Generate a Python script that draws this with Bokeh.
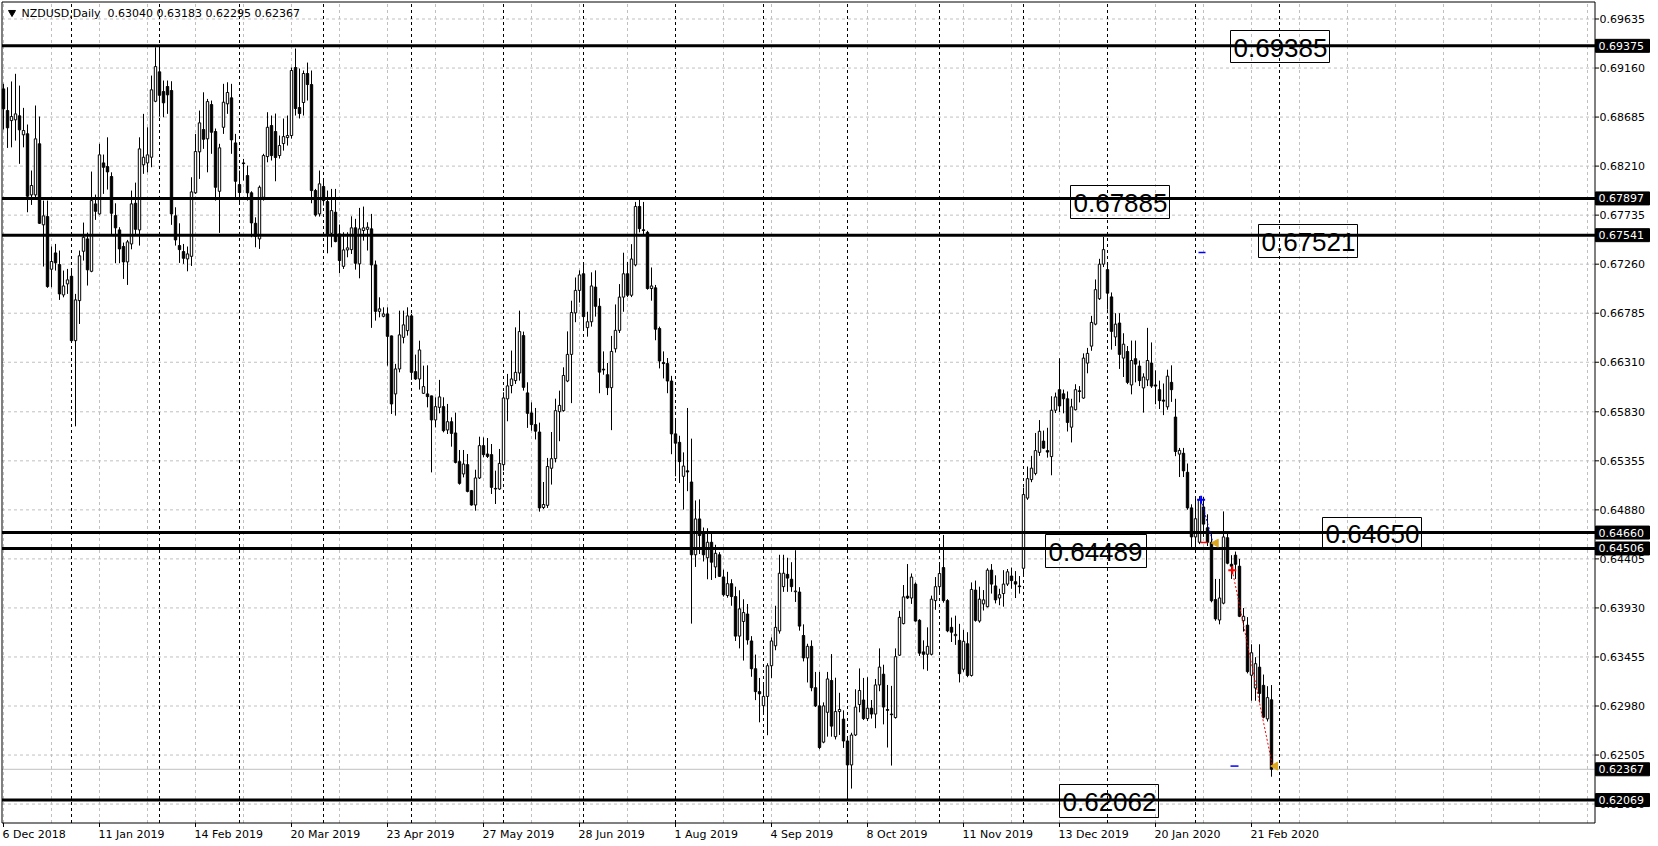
import numpy as np
import pandas as pd
from bokeh.plotting import figure
from bokeh.models import Range1d, ColumnDataSource
from bokeh.core.properties import value
from bokeh.embed import file_html
from bokeh.resources import INLINE

# ---------------- data ----------------
symbol_title = "NZDUSD,Daily"
holidays = ["2018-12-25", "2019-01-01", "2019-12-25", "2020-01-01"]
dates = [d for d in pd.bdate_range("2018-12-06", "2020-02-28") if d.strftime("%Y-%m-%d") not in holidays]

opens = [
 0.68958,0.68748,0.68651,0.68658,0.68697,0.68513,0.68523,0.67931,0.67931,0.68426,
 0.67641,0.67721,0.67211,0.67369,0.67256,0.66962,0.67069,0.67143,0.66519,0.66907,
 0.67385,0.67505,0.67191,0.67844,0.67747,0.68241,0.68205,0.68109,0.67731,0.67592,
 0.67431,0.67282,0.67456,0.67850,0.67592,0.68222,0.68241,0.68296,0.68838,0.69123,
 0.68932,0.68981,0.68942,0.67728,0.67440,0.67382,0.67311,0.67336,0.67951,0.68348,
 0.68564,0.68474,0.68806,0.68545,0.67966,0.68586,0.68813,0.68871,0.68435,0.68031,
 0.68241,0.68118,0.67951,0.67656,0.67505,0.67908,0.68302,0.68603,0.68545,0.68312,
 0.68428,0.68486,0.68506,0.69165,0.68777,0.68826,0.69107,0.69000,0.67973,0.67747,
 0.68012,0.67866,0.67559,0.67763,0.67553,0.67239,0.67398,0.67401,0.67612,0.67263,
 0.67586,0.67598,0.67602,0.67253,0.66803,0.66755,0.66778,0.66565,0.66003,0.66245,
 0.66551,0.66616,0.66759,0.66219,0.66148,0.66009,0.66003,0.65984,0.65751,0.65873,
 0.65880,0.65654,0.65734,0.65625,0.65347,0.65228,0.65318,0.65066,0.64927,0.65189,
 0.65502,0.65421,0.65415,0.65088,0.65082,0.65318,0.65955,0.66084,0.66132,0.66206,
 0.66568,0.66013,0.65819,0.65706,0.65634,0.64903,0.64924,0.65283,0.65376,0.65831,
 0.65841,0.66128,0.66386,0.66788,0.67006,0.67167,0.66645,0.66702,0.67038,0.66852,
 0.66243,0.66189,0.66064,0.66440,0.66619,0.66941,0.67167,0.66959,0.67253,0.67819,
 0.67593,0.67568,0.67024,0.67031,0.66637,0.66307,0.66297,0.66128,0.65616,0.65534,
 0.65205,0.65258,0.65150,0.64445,0.64792,0.64649,0.64416,0.64566,0.64327,0.64445,
 0.64230,0.64050,0.64165,0.64040,0.63657,0.63799,0.63871,0.63610,0.63341,0.63119,
 0.62983,0.63073,0.63370,0.63563,0.63707,0.64136,0.64255,0.64208,0.64087,0.64084,
 0.63663,0.63446,0.63558,0.63157,0.62981,0.62630,0.62919,0.63227,0.62683,0.62926,
 0.62853,0.62641,0.62409,0.62699,0.62994,0.63038,0.62858,0.62959,0.62902,0.63184,
 0.63288,0.62946,0.62902,0.62868,0.63472,0.63778,0.64044,0.64026,0.64161,0.63810,
 0.63504,0.63481,0.63481,0.64001,0.64136,0.64321,0.64001,0.63742,0.63661,0.63616,
 0.63336,0.63583,0.63276,0.64103,0.63803,0.63969,0.63942,0.64296,0.64143,0.64026,
 0.64069,0.64161,0.64239,0.64184,0.64143,0.64314,0.64994,0.65173,0.65233,0.65437,
 0.65546,0.65454,0.65396,0.65845,0.66044,0.66004,0.65956,0.65681,0.65850,0.66033,
 0.65963,0.66302,0.66466,0.66679,0.66925,0.67260,0.67207,0.66943,0.66555,0.66690,
 0.66350,0.66414,0.66090,0.66344,0.66273,0.66061,0.66139,0.66302,0.66090,0.66044,
 0.65943,0.65878,0.66115,0.65779,0.65420,0.65428,0.65244,0.64899,0.64618,0.64566,
 0.64908,0.64706,0.64566,0.64011,0.63813,0.63976,0.64610,0.64353,0.64441,0.64334,
 0.63806,0.63763,0.63278,0.63154,0.63356,0.63180,0.62855,0.63040]

highs = [
 0.69007,0.68974,0.69030,0.69104,0.68990,0.68774,0.68613,0.68167,0.68797,0.68690,
 0.67876,0.67876,0.67431,0.67456,0.67392,0.67198,0.67214,0.67217,0.66972,0.67392,
 0.67663,0.67566,0.68157,0.67934,0.68426,0.68322,0.68489,0.68150,0.67850,0.67618,
 0.67469,0.67495,0.67973,0.68050,0.68489,0.68716,0.68586,0.69087,0.69361,0.69361,
 0.69039,0.69039,0.69032,0.67811,0.67656,0.67456,0.67431,0.68102,0.68522,0.68748,
 0.68925,0.68861,0.68845,0.68574,0.68426,0.69007,0.69022,0.69007,0.68522,0.68167,
 0.68280,0.68215,0.67966,0.67714,0.68022,0.68329,0.68732,0.68700,0.68719,0.68506,
 0.68671,0.68700,0.69165,0.69349,0.69155,0.69136,0.69213,0.69136,0.67989,0.68167,
 0.68089,0.67973,0.67989,0.67989,0.67644,0.67569,0.67569,0.67724,0.67699,0.67805,
 0.67818,0.67666,0.67747,0.67295,0.66939,0.66842,0.66842,0.66568,0.66294,0.66810,
 0.66810,0.66842,0.66778,0.66384,0.66519,0.66277,0.66280,0.65986,0.65970,0.66139,
 0.65970,0.65906,0.65776,0.65822,0.65460,0.65460,0.65421,0.65073,0.65269,0.65589,
 0.65582,0.65576,0.65518,0.65260,0.65470,0.66019,0.66197,0.66423,0.66648,0.66810,
 0.66607,0.66116,0.65921,0.65867,0.65725,0.65150,0.65383,0.65634,0.65957,0.66035,
 0.66261,0.66609,0.66906,0.67131,0.67200,0.67253,0.66799,0.67181,0.67200,0.66930,
 0.66415,0.66303,0.66565,0.66870,0.67067,0.67371,0.67282,0.67454,0.67863,0.67891,
 0.67863,0.67583,0.67228,0.67059,0.66655,0.66415,0.66351,0.66178,0.65741,0.65598,
 0.65437,0.65867,0.65570,0.64971,0.64982,0.64709,0.64702,0.64674,0.64542,0.64470,
 0.64301,0.64280,0.64208,0.64136,0.64101,0.64014,0.63968,0.63657,0.63478,0.63252,
 0.63191,0.63394,0.63645,0.63951,0.64445,0.64445,0.64416,0.64373,0.64489,0.64131,
 0.63771,0.63583,0.63616,0.63310,0.63310,0.63015,0.63310,0.63483,0.63254,0.63108,
 0.62938,0.62683,0.62721,0.63142,0.63344,0.63252,0.63259,0.63038,0.63242,0.63538,
 0.63380,0.63184,0.63175,0.63538,0.63901,0.64152,0.64355,0.64264,0.64177,0.63821,
 0.63616,0.63742,0.64049,0.64229,0.64365,0.64637,0.64015,0.63837,0.63855,0.63776,
 0.63718,0.63695,0.64177,0.64195,0.64136,0.64103,0.64314,0.64355,0.64246,0.64116,
 0.64296,0.64307,0.64321,0.64287,0.64239,0.65096,0.65300,0.65403,0.65625,0.65750,
 0.65648,0.65675,0.65981,0.66016,0.66349,0.66045,0.66027,0.65956,0.66097,0.66079,
 0.66396,0.66449,0.66759,0.67112,0.67312,0.67524,0.67260,0.66986,0.66785,0.66785,
 0.66591,0.66467,0.66520,0.66520,0.66327,0.66203,0.66643,0.66502,0.66231,0.66132,
 0.66104,0.66238,0.66280,0.65956,0.65480,0.65480,0.65329,0.64934,0.64988,0.65013,
 0.65005,0.64837,0.64654,0.64211,0.64211,0.64865,0.64654,0.64441,0.64476,0.64405,
 0.63929,0.63841,0.63578,0.63453,0.63578,0.63285,0.63172,0.63183]

lows = [
 0.68564,0.68386,0.68392,0.68457,0.68232,0.68392,0.67763,0.67834,0.67908,0.67650,
 0.67237,0.67031,0.67036,0.67198,0.66914,0.66939,0.66972,0.66500,0.65689,0.66681,
 0.67295,0.67053,0.67182,0.67689,0.67740,0.67941,0.67983,0.67547,0.67269,0.67269,
 0.67117,0.67059,0.67404,0.67547,0.67440,0.68135,0.68150,0.68199,0.68829,0.68690,
 0.68683,0.68716,0.67641,0.67440,0.67272,0.67263,0.67191,0.67243,0.67941,0.68086,
 0.68377,0.68150,0.68329,0.67876,0.67563,0.68522,0.68716,0.68329,0.67908,0.67860,
 0.68070,0.67876,0.67521,0.67424,0.67408,0.67876,0.68247,0.68264,0.68063,0.68283,
 0.68360,0.68409,0.68477,0.68700,0.68671,0.68700,0.68845,0.67850,0.67721,0.67721,
 0.67828,0.67365,0.67424,0.67472,0.67172,0.67214,0.67327,0.67359,0.67207,0.67123,
 0.67488,0.67392,0.66643,0.66713,0.66745,0.66745,0.66277,0.65809,0.65793,0.66212,
 0.66493,0.66568,0.66139,0.66139,0.66045,0.66003,0.65873,0.65243,0.65679,0.65815,
 0.65631,0.65615,0.65492,0.65330,0.65124,0.65195,0.65050,0.64921,0.64872,0.65179,
 0.65389,0.65383,0.65034,0.64937,0.65073,0.65260,0.65738,0.66009,0.66100,0.66132,
 0.66035,0.65674,0.65647,0.65562,0.64863,0.64888,0.64899,0.65125,0.65340,0.65545,
 0.65831,0.66117,0.65914,0.66698,0.66888,0.66637,0.66558,0.66655,0.66752,0.66010,
 0.66189,0.65992,0.65652,0.66404,0.66594,0.66799,0.66941,0.66941,0.67239,0.67568,
 0.67540,0.67013,0.66906,0.66523,0.66250,0.66153,0.66010,0.65419,0.65205,0.65140,
 0.64882,0.65061,0.63778,0.64327,0.64452,0.64380,0.64208,0.64201,0.64219,0.64230,
 0.64040,0.64029,0.63951,0.63610,0.63538,0.63420,0.63574,0.63263,0.63037,0.62822,
 0.62894,0.62697,0.63252,0.63520,0.63681,0.64086,0.64086,0.64086,0.63988,0.63710,
 0.63412,0.63208,0.63123,0.62970,0.62562,0.62619,0.62683,0.62683,0.62656,0.62700,
 0.62574,0.62072,0.62180,0.62689,0.62919,0.62844,0.62834,0.62858,0.62765,0.63123,
 0.62802,0.62578,0.62403,0.62858,0.63465,0.63771,0.64016,0.63969,0.63797,0.63465,
 0.63336,0.63321,0.63470,0.63912,0.64058,0.63981,0.63695,0.63600,0.63572,0.63208,
 0.63312,0.63259,0.63265,0.63797,0.63787,0.63905,0.63935,0.64069,0.63974,0.63956,
 0.63942,0.64143,0.64116,0.64026,0.64069,0.64239,0.64977,0.65148,0.65215,0.65403,
 0.65471,0.65386,0.65215,0.65818,0.65828,0.65815,0.65639,0.65533,0.65843,0.65921,
 0.65956,0.66203,0.66421,0.66668,0.66914,0.67232,0.66819,0.66432,0.66467,0.66245,
 0.66167,0.66098,0.65999,0.66115,0.66079,0.65822,0.66079,0.66061,0.65903,0.65857,
 0.65798,0.65850,0.65926,0.65400,0.65198,0.65198,0.64881,0.64519,0.64512,0.64548,
 0.64618,0.64530,0.63984,0.63806,0.63771,0.63965,0.64353,0.64211,0.64211,0.63841,
 0.63701,0.63296,0.63031,0.63031,0.63014,0.62861,0.62830,0.62295]

closes = [
 0.68765,0.68581,0.68690,0.68716,0.68561,0.68555,0.67918,0.68022,0.68474,0.67656,
 0.67728,0.67043,0.67286,0.67273,0.66972,0.67049,0.67108,0.66519,0.66914,0.67341,
 0.67521,0.67205,0.67876,0.67772,0.68319,0.68199,0.68154,0.67753,0.67612,0.67408,
 0.67282,0.67476,0.67844,0.67598,0.68377,0.68296,0.68319,0.68949,0.69174,0.68896,
 0.68823,0.68900,0.67747,0.67495,0.67401,0.67317,0.67359,0.67960,0.68351,0.68629,
 0.68470,0.68835,0.68538,0.68005,0.68387,0.68829,0.68923,0.68464,0.68063,0.67954,
 0.68234,0.67951,0.67660,0.67530,0.68005,0.68312,0.68586,0.68312,0.68293,0.68409,
 0.68496,0.68506,0.69136,0.68768,0.68719,0.69107,0.69000,0.67973,0.67737,0.68038,
 0.67876,0.67547,0.67779,0.67479,0.67295,0.67398,0.67418,0.67612,0.67269,0.67602,
 0.67612,0.67618,0.67253,0.66803,0.66827,0.66778,0.66561,0.65906,0.66245,0.66575,
 0.66672,0.66759,0.66212,0.66148,0.66429,0.66074,0.65977,0.65751,0.65880,0.65974,
 0.65647,0.65734,0.65621,0.65340,0.65137,0.65324,0.65059,0.64927,0.65189,0.65502,
 0.65415,0.65398,0.65098,0.65082,0.65330,0.65964,0.66081,0.66148,0.66212,0.66607,
 0.66067,0.65815,0.65706,0.65642,0.64899,0.64932,0.65300,0.65376,0.65841,0.65892,
 0.66182,0.66386,0.66791,0.67006,0.67156,0.66752,0.66702,0.67049,0.66852,0.66214,
 0.66235,0.66064,0.66415,0.66619,0.66941,0.67167,0.66959,0.67310,0.67819,0.67604,
 0.67586,0.67024,0.67049,0.66630,0.66322,0.66297,0.66128,0.65616,0.65526,0.65347,
 0.65304,0.65247,0.64445,0.64792,0.64631,0.64445,0.64566,0.64373,0.64459,0.64236,
 0.64058,0.64165,0.64040,0.63657,0.63921,0.63885,0.63620,0.63341,0.63119,0.63098,
 0.63073,0.63370,0.63610,0.63742,0.64266,0.64266,0.64219,0.64136,0.64094,0.63754,
 0.63446,0.63558,0.63157,0.62981,0.62578,0.62981,0.63242,0.62785,0.62926,0.62946,
 0.62641,0.62409,0.62699,0.62970,0.63130,0.62858,0.62959,0.62902,0.63184,0.63357,
 0.62970,0.62938,0.62896,0.63458,0.63839,0.64037,0.64026,0.64229,0.63803,0.63492,
 0.63481,0.63558,0.64015,0.64136,0.64263,0.64001,0.63708,0.63695,0.63674,0.63293,
 0.63607,0.63276,0.64109,0.63810,0.64015,0.64008,0.64296,0.64161,0.64008,0.64058,
 0.64161,0.64280,0.64195,0.64161,0.64136,0.65028,0.65182,0.65284,0.65454,0.65641,
 0.65478,0.65440,0.65845,0.65974,0.65887,0.65956,0.65727,0.65878,0.66044,0.66027,
 0.66350,0.66396,0.66696,0.67013,0.67260,0.67401,0.66979,0.66609,0.66679,0.66386,
 0.66485,0.66115,0.66327,0.66292,0.66132,0.66167,0.66327,0.66079,0.66079,0.65938,
 0.65933,0.66175,0.66044,0.65445,0.65456,0.65258,0.64899,0.64618,0.64794,0.64977,
 0.64742,0.64566,0.64000,0.63824,0.64026,0.64618,0.64363,0.64334,0.64353,0.63849,
 0.63849,0.63313,0.63496,0.63390,0.63102,0.62872,0.63061,0.62367]

x_tick_labels = ["6 Dec 2018", "11 Jan 2019", "14 Feb 2019", "20 Mar 2019", "23 Apr 2019",
                 "27 May 2019", "28 Jun 2019", "1 Aug 2019", "4 Sep 2019", "8 Oct 2019",
                 "11 Nov 2019", "13 Dec 2019", "20 Jan 2020", "21 Feb 2020"]
y_tick_labels = ["0.69635", "0.69160", "0.68685", "0.68210", "0.67735", "0.67260", "0.66785",
                 "0.66310", "0.65830", "0.65355", "0.64880", "0.64405", "0.63930", "0.63455",
                 "0.62980", "0.62505", "0.62030"]

level_prices = [0.69375, 0.67897, 0.67541, 0.64660, 0.64506, 0.62069]
note_texts = ["0.69385", "0.67885", "0.67521", "0.64650", "0.64489", "0.62062"]
current_price = closes[-1]

trade_open_bar = [299.4, 307.2]
trade_open_price = [0.64977, 0.64294]
trade_close_bar = [302.4, 317.25]
trade_close_price = [0.64558, 0.62398]
trade_colors = ["#0000FF", "#FF0000"]
mark_bar0 = [298.75, 299.25, 306.75]
mark_bar1 = [300.5, 301.0, 308.75]
mark_price = [0.67373, 0.64564, 0.62398]
mark_colors = ["#0000FF", "#FF0000", "#0000FF"]

# ---------------- geometry helpers (screen pixel -> data) ----------------
W, H = 1658, 846
def bx(px):
    return (px - 3.0) / 4.0
def py(y):
    return 0.698142 - 0.00009687 * y
HALF = 0.00009687  # one pixel in price

FONT = "DejaVu Sans"
L, R, T, B = 1.5, 1594.5, 1.5, 822.5   # frame edges (px)

p = figure(width=W, height=H, output_backend="svg", toolbar_location=None,
           x_range=Range1d(bx(0), bx(W)), y_range=Range1d(py(H), py(0)),
           x_axis_location=None, y_axis_location=None, min_border=0)
p.grid.visible = False
p.outline_line_color = None
p.background_fill_color = "white"
p.border_fill_color = "white"

n = len(opens)
xs = np.arange(n)

# grid lines
vg = list(range(0, 398, 12))
p.segment(x0=vg, y0=[py(B)] * len(vg), x1=vg, y1=[py(T)] * len(vg),
          line_color="#C0C0C0", line_dash="3 3", line_width=1)
yt = [float(s) for s in y_tick_labels]
p.segment(x0=[bx(L)] * len(yt), y0=yt, x1=[bx(R)] * len(yt), y1=yt,
          line_color="#C0C0C0", line_dash="3 3", line_width=1)

# month separators (first bar of each month + next month start extrapolated)
seps = [i for i in range(1, n) if dates[i].month != dates[i - 1].month]
seps.append(n - 1 + (pd.Timestamp("2020-03-01") - dates[-1]).days)
p.segment(x0=seps, y0=[py(B)] * len(seps), x1=seps, y1=[py(T)] * len(seps),
          line_color="black", line_dash="3 3", line_width=1)

# current price line
p.segment(x0=[bx(L)], y0=[current_price], x1=[bx(R)], y1=[current_price],
          line_color="#C0C0C0", line_width=1)

# candles
o = np.array(opens); c = np.array(closes)
top = np.maximum(o, c); bot = np.minimum(o, c)
top = np.where(top - bot < 0.00003, bot + 0.00003, top)
src = ColumnDataSource(dict(x=xs, h=highs, l=lows, top=top, bot=bot,
                            fill=np.where(c >= o, "white", "black")))
p.segment(x0="x", y0="h", x1="x", y1="l", source=src, line_color="black", line_width=1)
p.vbar(x="x", width=0.6, top="top", bottom="bot", source=src,
       fill_color="fill", line_color="black", line_width=1)

# horizontal levels
p.segment(x0=[bx(L)] * len(level_prices), y0=level_prices,
          x1=[bx(R)] * len(level_prices), y1=level_prices, line_color="black", line_width=3)

# trades
p.segment(x0=trade_open_bar, y0=trade_open_price, x1=trade_close_bar, y1=trade_close_price,
          line_color=trade_colors, line_dash="2 2", line_width=1)
p.segment(x0=mark_bar0, y0=mark_price, x1=mark_bar1, y1=mark_price,
          line_color=mark_colors, line_width=1.5)
p.scatter(x=trade_open_bar, y=trade_open_price, marker="cross", size=8,
          line_color=trade_colors, line_width=2)
p.scatter(x=[b + 0.7 for b in trade_close_bar], y=trade_close_price, marker="triangle",
          angle=np.pi / 2, size=8, fill_color="#DAA520", line_color="#DAA520")

# text notes on the chart (boxes in px)
note_box = [(1230, 1329, 30, 62), (1070, 1169, 185, 218), (1258, 1357, 224, 257),
            (1322, 1421, 517, 547), (1045, 1146, 534, 567), (1059, 1158, 784, 817)]
p.quad(left=[bx(b[0]) for b in note_box], right=[bx(b[1]) for b in note_box],
       top=[py(b[2]) for b in note_box], bottom=[py(b[3]) for b in note_box],
       fill_color=None, line_color="black", line_width=1)
p.text(x=[bx(b[0] + 3) for b in note_box], y=[py((b[2] + b[3]) / 2 + 1) for b in note_box],
       text=note_texts, text_font=value("Liberation Sans"), text_font_size=value("26px"),
       text_color="black", text_align="left", text_baseline="middle")

# frame
p.segment(x0=[bx(L), bx(R), bx(L), bx(L)], y0=[py(T), py(T), py(T), py(B)],
          x1=[bx(L), bx(R), bx(R), bx(R)], y1=[py(B), py(B), py(T), py(B)],
          line_color="black", line_width=1)

# y axis ticks and labels
p.segment(x0=[bx(R)] * len(yt), y0=yt, x1=[bx(R + 4)] * len(yt), y1=yt,
          line_color="black", line_width=1)
p.text(x=[bx(1599)] * len(yt), y=yt, text=y_tick_labels, text_font=value(FONT),
       text_font_size=value("11px"), text_color="black", text_align="left",
       text_baseline="middle")

# highlighted price boxes on the axis
hv = level_prices + [current_price]
p.quad(left=[bx(1595)] * len(hv), right=[bx(1649)] * len(hv),
       top=[v + 6.5 * HALF for v in hv], bottom=[v - 6.5 * HALF for v in hv],
       fill_color="black", line_color="black")
p.text(x=[bx(1598)] * len(hv), y=hv, text=[f"{v:.5f}" for v in hv], text_font=value(FONT),
       text_font_size=value("11px"), text_color="white", text_align="left",
       text_baseline="middle")

# x axis ticks and labels
xt = [24 * k for k in range(len(x_tick_labels))]
p.segment(x0=xt, y0=[py(B)] * len(xt), x1=xt, y1=[py(B + 4)] * len(xt),
          line_color="black", line_width=1)
p.text(x=[t - 0.25 for t in xt], y=[py(833.5)] * len(xt), text=x_tick_labels,
       text_font=value(FONT), text_font_size=value("11px"), text_color="black",
       text_align="left", text_baseline="middle")

# title
title_txt = f"{symbol_title}\u00a0\u00a0{opens[-1]:.5f} {highs[-1]:.5f} {lows[-1]:.5f} {closes[-1]:.5f}"
p.text(x=[bx(21)], y=[py(13)], text=[title_txt], text_font=value(FONT),
       text_font_size=value("11px"), text_color="black", text_align="left",
       text_baseline="middle")
p.scatter(x=[bx(11.5)], y=[py(12)], marker="inverted_triangle", size=7,
          fill_color="black", line_color="black")

open("out.html", "w").write(file_html(p, INLINE))
